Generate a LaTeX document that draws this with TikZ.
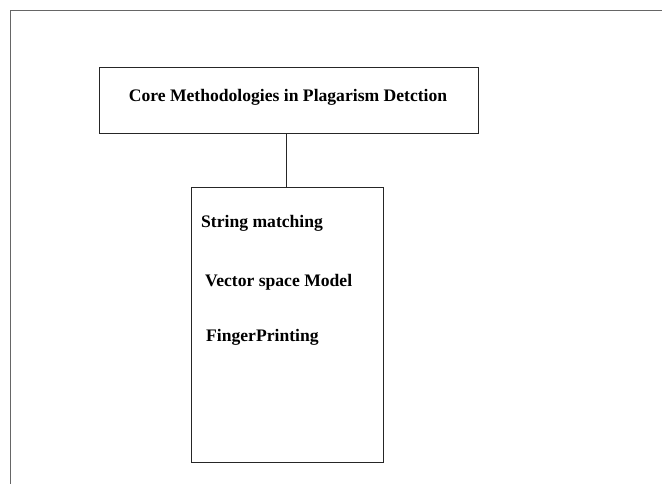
\documentclass[tikz,border=0pt]{standalone}
\usepackage{fontspec}
\setmainfont{Liberation Serif}
\begin{document}
\begin{tikzpicture}[x=1pt,y=-1pt,
  frame/.style={draw=black!60,line width=1.8pt},
  box/.style={draw=black!85,line width=1pt},
  txt/.style={font=\bfseries\fontsize{17.6}{19}\selectfont,inner sep=0pt},
  lbl/.style={txt,anchor=west}]
\useasboundingbox (0,0) rectangle (662,484);
\draw[frame] (10.5,484) -- (10.5,10.5) -- (662,10.5);
\node[box,minimum width=379pt,minimum height=66pt,anchor=north west,inner sep=0pt] (top) at (99,67) {};
\node[txt] (title) at (288,97.5) {Core Methodologies in Plagarism Detction};
\node[box,minimum width=192pt,minimum height=275pt,anchor=north west,inner sep=0pt] (list) at (191,187) {};
\draw[box] (top.south -| 286,0) -- (list.north -| 286,0);
\node[lbl] (s1) at (201,223.5) {String matching};
\node[lbl] (s2) at (205,282.5) {Vector space Model};
\node[lbl] (s3) at (206,337.5) {FingerPrinting};
\end{tikzpicture}
\end{document}
